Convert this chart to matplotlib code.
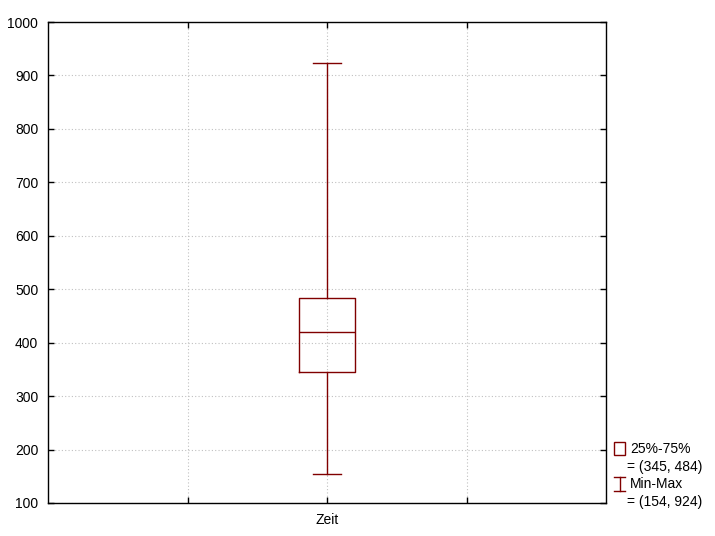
import matplotlib
matplotlib.use('Agg')
from matplotlib import pyplot as plt
from matplotlib.patches import Rectangle
from matplotlib.lines import Line2D

categories = ['Zeit']
q1 = [345]
q3 = [484]
med = [420]
vmin = [154]
vmax = [924]
yticks = [100, 200, 300, 400, 500, 600, 700, 800, 900, 1000]

red = '#800000'
plt.rcParams['font.family'] = ['Liberation Sans', 'DejaVu Sans']
plt.rcParams['font.size'] = 10

fig = plt.figure(figsize=(7.15, 5.36), dpi=100)
ax = fig.add_axes([48/715, 33/536, 558/715, 481/536])

stats = [dict(label=c, q1=a, q3=b, med=m, whislo=lo, whishi=hi, fliers=[])
         for c, a, b, m, lo, hi in zip(categories, q1, q3, med, vmin, vmax)]
ax.bxp(stats, positions=[2], widths=0.4, showfliers=False,
       boxprops=dict(color=red, lw=1),
       medianprops=dict(color=red, lw=1),
       whiskerprops=dict(color=red, lw=1),
       capprops=dict(color=red, lw=1), capwidths=0.2)

ax.set_xlim(0, 4)
ax.set_ylim(100, 1000)
ax.set_yticks(yticks)
ax.set_xticks([1, 2, 3])
ax.set_xticklabels(['', categories[0], ''])
ax.grid(True, color='#c0c0c0', ls=(0, (1, 2)), lw=0.8)
ax.set_axisbelow(True)
ax.tick_params(direction='in', length=4, width=1, top=True, right=True,
               labeltop=False, labelright=False, pad=7)
for s in ax.spines.values():
    s.set_linewidth(1)

# legend outside, right side
def fy(p):
    return 1 - p/536
def fx(p):
    return p/715
fig.add_artist(Rectangle((fx(614), fy(455)), 11/715, 13/536, fill=False,
                         edgecolor=red, lw=1, transform=fig.transFigure))
fig.text(fx(630), fy(449), '25%-75%', va='center', ha='left')
fig.text(fx(627), fy(467), '= ({}, {})'.format(q1[0], q3[0]), va='center', ha='left')
fig.add_artist(Line2D([fx(619.5), fx(619.5)], [fy(477), fy(491)], color=red, lw=1, transform=fig.transFigure))
fig.add_artist(Line2D([fx(614), fx(625)], [fy(477), fy(477)], color=red, lw=1, transform=fig.transFigure))
fig.add_artist(Line2D([fx(614), fx(625)], [fy(491), fy(491)], color=red, lw=1, transform=fig.transFigure))
fig.text(fx(630), fy(484), 'Min-Max', va='center', ha='left')
fig.text(fx(627), fy(502), '= ({}, {})'.format(vmin[0], vmax[0]), va='center', ha='left')

fig.savefig('out.png', dpi=100)
